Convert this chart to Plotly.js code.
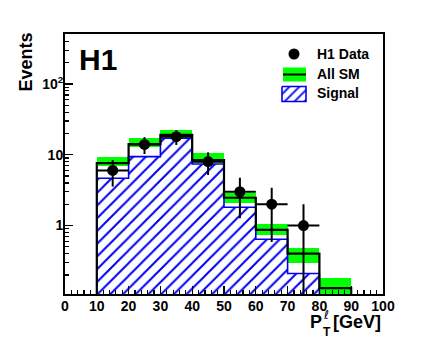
<!DOCTYPE html>
<html>
<head>
<meta charset="utf-8">
<script src="https://cdn.plot.ly/plotly-3.0.1.min.js"></script>
<style>html,body{margin:0;padding:0;background:#fff;}#chart{width:427px;height:347px;}</style>
</head>
<body>
<div id="chart"></div>
<script>
// ---- data ----
const binEdges = [10, 20, 30, 40, 50, 60, 70, 80, 90];
const dataX = [15, 25, 35, 45, 55, 65, 75];
const dataN = [6, 14, 18, 8, 3, 2, 1];
const smVal = [7.6, 14.1, 19.1, 8.4, 2.47, 0.87, 0.40, 0.13];
const smHi  = [9.2, 17.1, 22.4, 10.5, 2.9, 1.05, 0.485, 0.18];
const smLo  = [6.9, 12.8, 17.8, 7.6, 2.06, 0.73, 0.295, 0.08];
const sigVal = [4.65, 9.4, 17.1, 7.4, 1.81, 0.64, 0.21];
const xTicks = [0, 10, 20, 30, 40, 50, 60, 70, 80, 90, 100];
const yTicks = [1, 10, 100];
const yTickText = ['1', '10', '10<sup>2</sup>'];
const legendLabels = ['H1 Data', 'All SM', 'Signal'];

// ---- derived ----
const FLOOR = 1e-3;
const centers = binEdges.slice(0, -1).map((e, i) => (e + binEdges[i + 1]) / 2);
const widths = binEdges.slice(0, -1).map((e, i) => binEdges[i + 1] - e);

function stepLine(vals) {
  const xs = [binEdges[0]], ys = [FLOOR];
  vals.forEach((v, i) => { xs.push(binEdges[i]); ys.push(v); });
  xs.push(binEdges[vals.length]); ys.push(vals[vals.length - 1]);
  xs.push(binEdges[vals.length]); ys.push(FLOOR);
  return {xs, ys};
}
const sigStep = stepLine(sigVal);
const smStep = stepLine(smVal);

const minorY = [];
for (let d = -1; d <= 2; d++) for (let m = 2; m <= 9; m++) minorY.push(m * Math.pow(10, d));
const minorX = [];
for (let v = 0; v <= 100; v += 2) if (v % 10) minorX.push(v);

const FONT = 'Liberation Sans, Arial, Helvetica, sans-serif';
const BLUE = '#0000ee';
const GREEN = '#00ff00';

const traces = [
  { // signal hatched
    type: 'bar', x: centers.slice(0, sigVal.length), y: sigVal, width: widths.slice(0, sigVal.length),
    marker: {color: 'white', line: {width: 0},
      pattern: {shape: '/', fgcolor: BLUE, bgcolor: 'white', size: 9, solidity: 0.22}},
    hoverinfo: 'skip'
  },
  { // signal outline
    type: 'scatter', mode: 'lines', x: sigStep.xs, y: sigStep.ys,
    line: {shape: 'hv', color: BLUE, width: 1.6}, hoverinfo: 'skip'
  },
  { // SM uncertainty band
    type: 'bar', x: centers, base: smLo, y: smHi.map((h, i) => h - smLo[i]), width: widths,
    marker: {color: GREEN, line: {width: 0}}, hoverinfo: 'skip'
  },
  { // SM line
    type: 'scatter', mode: 'lines', x: smStep.xs, y: smStep.ys,
    line: {shape: 'hv', color: 'black', width: 2.2}, hoverinfo: 'skip'
  },
  { // data
    type: 'scatter', mode: 'markers', x: dataX, y: dataN,
    marker: {color: 'black', size: 11, symbol: 'circle'},
    error_y: {type: 'data', array: dataN.map(Math.sqrt), color: 'black', thickness: 2, width: 0},
    error_x: {type: 'data', array: dataX.map(() => widths[0] / 2), color: 'black', thickness: 2, width: 0},
    hoverinfo: 'skip'
  },
  // legend glyphs on a pixel-mapped overlay axis
  {
    type: 'scatter', mode: 'markers', x: [294], y: [54], xaxis: 'x2', yaxis: 'y2',
    marker: {color: 'black', size: 11}, hoverinfo: 'skip'
  },
  {
    type: 'scatter', mode: 'lines', x: [282, 306, 306, 282, 282], y: [86.5, 86.5, 101.5, 101.5, 86.5],
    xaxis: 'x2', yaxis: 'y2', fill: 'toself', fillcolor: 'white',
    fillpattern: {shape: '/', fgcolor: BLUE, bgcolor: 'white', size: 7, solidity: 0.25},
    line: {color: BLUE, width: 1.6}, hoverinfo: 'skip'
  }
];

// pixel -> paper helpers (plot area 65..383 x 34..294)
const L = 65, R = 383, T = 34, B = 294;
const px = v => (v - L) / (R - L);
const py = v => (B - v) / (B - T);

const layout = {
  width: 427, height: 347,
  margin: {l: L, r: 427 - R, t: T, b: 347 - B, pad: 0},
  paper_bgcolor: 'white', plot_bgcolor: 'white',
  showlegend: false, barmode: 'overlay', bargap: 0,
  font: {family: FONT, color: 'black'},
  xaxis: {
    range: [0, 100], tickmode: 'array', tickvals: xTicks, ticktext: xTicks.map(String),
    ticks: 'inside', ticklen: 8, tickwidth: 1.2, tickcolor: '#000000', layer: 'above traces',
    showline: true, linewidth: 2, linecolor: 'black', mirror: true,
    showgrid: false, zeroline: false,
    tickfont: {family: FONT, size: 14, weight: 'bold', color: 'black'},
    ticklabelstandoff: -2,
    minor: {tickmode: 'array', tickvals: minorX, ticks: 'inside', ticklen: 4, tickwidth: 1.2, tickcolor: '#000000', showgrid: false}
  },
  yaxis: {
    type: 'log', range: [-0.968, 2.707], tickmode: 'array', tickvals: yTicks, ticktext: yTickText,
    ticks: 'inside', ticklen: 8, tickwidth: 1.2, tickcolor: '#000000', layer: 'above traces',
    showline: true, linewidth: 2, linecolor: 'black', mirror: true,
    showgrid: false, zeroline: false,
    tickfont: {family: FONT, size: 14, weight: 'bold', color: 'black'},
    ticklabelstandoff: -3,
    minor: {tickmode: 'array', tickvals: minorY, ticks: 'inside', ticklen: 4, tickwidth: 1.2, tickcolor: '#000000', showgrid: false}
  },
  xaxis2: {overlaying: 'x', anchor: 'y2', range: [L, R], visible: false, fixedrange: true},
  yaxis2: {overlaying: 'y', anchor: 'x2', range: [B, T], visible: false, fixedrange: true},
  shapes: [
    {type: 'rect', xref: 'x2', yref: 'y2', x0: 283, x1: 306, y0: 67.5, y1: 81.5, fillcolor: GREEN, line: {width: 0}},
    {type: 'line', xref: 'x2', yref: 'y2', x0: 283, x1: 306, y0: 74.5, y1: 74.5, line: {color: 'black', width: 2}}
  ],
  annotations: [
    {xref: 'paper', yref: 'paper', x: px(97.5), y: py(59), text: 'H1', showarrow: false,
      xanchor: 'center', yanchor: 'middle', font: {family: FONT, size: 30, weight: 'bold', color: 'black'}},
    {xref: 'x2', yref: 'y2', x: 315, y: 54, text: legendLabels[0], showarrow: false, xanchor: 'left', yanchor: 'middle',
      font: {family: FONT, size: 14, weight: 'bold', color: 'black'}},
    {xref: 'x2', yref: 'y2', x: 315, y: 74, text: legendLabels[1], showarrow: false, xanchor: 'left', yanchor: 'middle',
      font: {family: FONT, size: 14, weight: 'bold', color: 'black'}},
    {xref: 'x2', yref: 'y2', x: 315, y: 93, text: legendLabels[2], showarrow: false, xanchor: 'left', yanchor: 'middle',
      font: {family: FONT, size: 14, weight: 'bold', color: 'black'}},
    {xref: 'paper', yref: 'paper', x: px(25), y: py(62.5), text: 'Events', textangle: -90, showarrow: false,
      xanchor: 'center', yanchor: 'middle', font: {family: FONT, size: 18, weight: 'bold', color: 'black'}},
    {xref: 'paper', yref: 'paper', x: px(315.5), y: py(321.5), text: 'P', showarrow: false,
      xanchor: 'center', yanchor: 'middle', font: {family: FONT, size: 18, weight: 'bold', color: 'black'}},
    {xref: 'paper', yref: 'paper', x: px(326), y: py(315), text: 'ℓ', showarrow: false,
      xanchor: 'center', yanchor: 'middle', font: {family: 'DejaVu Sans, sans-serif', size: 12, color: 'black'}},
    {xref: 'paper', yref: 'paper', x: px(326.5), y: py(331.5), text: 'T', showarrow: false,
      xanchor: 'center', yanchor: 'middle', font: {family: FONT, size: 12, weight: 'bold', color: 'black'}},
    {xref: 'paper', yref: 'paper', x: px(383), y: py(321.5), text: '[GeV]', showarrow: false,
      xanchor: 'right', yanchor: 'middle', font: {family: FONT, size: 18, weight: 'bold', color: 'black'}}
  ]
};

Plotly.newPlot('chart', traces, layout, {staticPlot: true, displayModeBar: false});
</script>
</body>
</html>
